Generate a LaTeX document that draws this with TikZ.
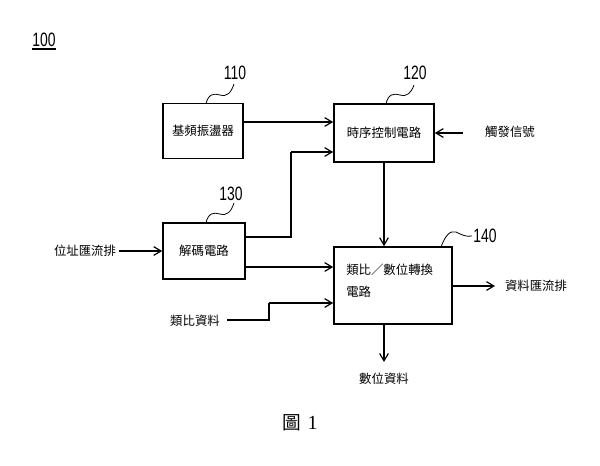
\documentclass[tikz,border=0pt]{standalone}
\usepackage{fontspec}
\usetikzlibrary{arrows.meta}
\setmainfont{Liberation Serif}
\newfontfamily\cjk{Noto Sans CJK TC}
\newfontfamily\numf{Liberation Sans}
\begin{document}
\begin{tikzpicture}[x=0.75pt,y=-0.75pt,
  blk/.style={draw,line width=1.2pt,inner sep=0pt},
  lbl/.style={font=\cjk\fontsize{9.3}{11}\selectfont,inner sep=0pt},
  num/.style={font=\numf\fontsize{14.5}{16}\selectfont,inner sep=0pt},
  conn/.style={line width=0.9pt},
  arr/.style={line width=0.9pt,-{Straight Barb[length=5.5pt,width=6.5pt]}},
  sq/.style={line width=0.6pt}]
\useasboundingbox (0,0) rectangle (600,465);
% blocks
\node[blk,minimum width=60pt,minimum height=41pt] (b110) at (203,131) {};
\node[lbl] at (b110.center) {基頻振盪器};
\node[blk,minimum width=75pt,minimum height=43.5pt] (b120) at (384,133) {};
\node[lbl] at (b120.center) {時序控制電路};
\node[blk,minimum width=61.5pt,minimum height=42pt] (b130) at (204,251) {};
\node[lbl] at (b130.center) {解碼電路};
\node[blk,minimum width=88.5pt,minimum height=57.75pt] (b140) at (393,285.5) {};
\node[lbl,anchor=west] at (346,270) {類比／數位轉換};
\node[lbl,anchor=west] at (346,292) {電路};
% reference numbers
\node[num] (n100) at (44,40) {\scalebox{0.72}[1]{100}};
\draw[line width=1.2pt] (32,49) -- (56,49);
\node[num] (n110) at (235,73) {\scalebox{0.72}[1]{110}};
\node[num] (n120) at (415,73) {\scalebox{0.72}[1]{120}};
\node[num] (n130) at (231,194) {\scalebox{0.72}[1]{130}};
\node[num] (n140) at (485,236) {\scalebox{0.72}[1]{140}};
% squiggles
\draw[sq] (206,104) .. controls (208,94) and (214,93) .. (220,95) .. controls (227,97) and (231,93) .. (234,84);
\draw[sq] (386,104) .. controls (388,94) and (394,93) .. (400,95) .. controls (407,97) and (411,93) .. (414,85);
\draw[sq] (206,223) .. controls (208,213) and (214,212) .. (220,214) .. controls (227,216) and (231,212) .. (234,203);
\draw[sq] (441,247) .. controls (445,236) and (450,230) .. (456,232) .. controls (462,235) and (466,237) .. (472,236);
% labels
\node[lbl] (trig) at (510,132) {觸發信號};
\node[lbl] (addr) at (85,251) {位址匯流排};
\node[lbl] (ana) at (195,321) {類比資料};
\node[lbl] (dbus) at (536,286) {資料匯流排};
\node[lbl] (dig) at (384,379) {數位資料};
\node[font=\fontsize{15}{17}\selectfont,inner sep=0pt] (fig) at (300,423) {{\cjk\fontsize{14}{16}\selectfont 圖}\,\,1};
% coordinates
\coordinate (t1) at (463,133);
\coordinate (a1) at (119,251);
\coordinate (c1) at (227,320);
\coordinate (c2) at (269,320);
\coordinate (c3) at (269,303);
\coordinate (d1) at (291,237);
\coordinate (d2) at (291,152);
\coordinate (o1) at (495,286);
\coordinate (o2) at (384,362);
% connectors
\draw[arr] (b110.east |- 0,122) -- (b120.west |- 0,122);
\draw[arr] (t1) -- (b120.east |- t1);
\draw[conn] (b130.east |- d1) -- (d1) -- (d2);
\draw[arr] (d2) -- (b120.west |- d2);
\draw[arr] (a1) -- (b130.west |- a1);
\draw[arr] (b120.south) -- (b140.north -| b120.south);
\draw[arr] (b130.east |- 0,267) -- (b140.west |- 0,267);
\draw[conn] (c1) -- (c2) -- (c3);
\draw[arr] (c3) -- (b140.west |- c3);
\draw[arr] (b140.east |- o1) -- (o1);
\draw[arr] (b140.south -| o2) -- (o2);
\end{tikzpicture}
\end{document}
